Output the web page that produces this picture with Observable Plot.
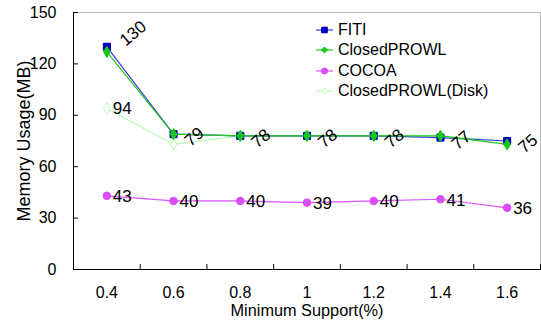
<!DOCTYPE html>
<html><head><meta charset="utf-8">
<script src="https://cdn.jsdelivr.net/npm/d3@7"></script>
<script src="https://cdn.jsdelivr.net/npm/@observablehq/plot@0.6"></script>
<style>
body{margin:0;background:#fff;font-family:"Liberation Sans",Arial,sans-serif;}
#wrap{position:relative;width:541px;height:321px;}
#legend{position:absolute;left:316px;top:20px;font-size:16px;color:#000;}
#legend .row{display:flex;align-items:center;height:20.3px;}
#legend svg{margin-right:5px;}
</style>
</head><body>
<div id="wrap"><div id="legend"></div></div>
<script>
const supports = [0.4, 0.6, 0.8, 1.0, 1.2, 1.4, 1.6];
const fiti = [130, 79, 78, 78, 78, 77, 75];
const closedProwl = [127, 79, 78, 78, 78, 78, 73];
const cocoa = [43, 40, 40, 39, 40, 41, 36];
const closedProwlDisk = [94, 73, 78, 78, 78, 78, 75];
const yTicks = [0, 30, 60, 90, 120, 150];
const xTickMarks = [0.5, 0.7, 0.9, 1.1, 1.3, 1.5, 1.7];
const seriesNames = ["FITI", "ClosedPROWL", "COCOA", "ClosedPROWL(Disk)"];

const styles = {
  "FITI": {line: "#3a3ae6", fill: "#0000c0", stroke: "#0000c0", symbol: "square", r: 4.0},
  "ClosedPROWL": {line: "#22c81a", fill: "#18c818", stroke: "#18c818", symbol: "diamond", r: 3.4},
  "COCOA": {line: "#dd55ff", fill: "#d94ef7", stroke: "#d94ef7", symbol: "circle", r: 3.8},
  "ClosedPROWL(Disk)": {line: "#b4fbb4", fill: "white", stroke: "#b4fbb4", symbol: "diamond", r: 3.4}
};
const values = {"FITI": fiti, "ClosedPROWL": closedProwl, "COCOA": cocoa, "ClosedPROWL(Disk)": closedProwlDisk};
const table = s => supports.map((x, i) => ({x, y: values[s][i], i}));

const stick = {draw(context, l) { context.moveTo(0, 0); context.lineTo(0, -l); }};

const drawOrder = ["ClosedPROWL(Disk)", "FITI", "ClosedPROWL", "COCOA"];
const marks = [
  Plot.frame({stroke: "#b8b8b8"}),
  Plot.axisY(yTicks, {tickSize: 0, tickPadding: 17, fontSize: 16, label: null}),
  Plot.axisX(supports, {tickSize: 0, tickPadding: 17, fontSize: 16, label: null, tickFormat: d => String(d)}),
  Plot.vector(xTickMarks, {x: d => d, frameAnchor: "bottom", rotate: 0, length: 5, anchor: "start", shape: stick, stroke: "black", strokeWidth: 1}),
  Plot.vector(yTicks, {y: d => d, frameAnchor: "left", rotate: 90, length: 4, anchor: "start", shape: stick, stroke: "black", strokeWidth: 1}),
  Plot.ruleY([0], {stroke: "black"}),
  Plot.ruleX([0.3], {stroke: "black"}),
  Plot.text(["Memory Usage(MB)"], {frameAnchor: "left", textAnchor: "middle", lineAnchor: "middle", dx: -49, rotate: -90, fontSize: 18}),
  Plot.text(["Minimum Support(%)"], {frameAnchor: "bottom", textAnchor: "middle", lineAnchor: "middle", dy: 41, fontSize: 16.3})
];
for (const s of drawOrder) {
  const st = styles[s];
  marks.push(Plot.line(table(s), {x: "x", y: "y", stroke: st.line, strokeWidth: 1.2}));
  marks.push(Plot.dot(table(s), {x: "x", y: "y", symbol: st.symbol, r: st.r, fill: st.fill, stroke: st.stroke, strokeWidth: 1}));
}
marks.push(
  Plot.text(table("FITI").filter(d => d.i > 0), {x: "x", y: "y", text: d => String(d.y), rotate: -40, textAnchor: "start", lineAnchor: "bottom", dx: 17, dy: 13, fontSize: 17}),
  Plot.text(table("FITI").filter(d => d.i === 0), {x: "x", y: "y", text: d => String(d.y), rotate: -40, textAnchor: "start", lineAnchor: "bottom", dx: 19, dy: 0, fontSize: 17}),
  Plot.text(table("COCOA"), {x: "x", y: "y", text: d => String(d.y), textAnchor: "start", lineAnchor: "middle", dx: 6, dy: 1, fontSize: 17}),
  Plot.text(table("ClosedPROWL(Disk)").filter(d => d.i === 0), {x: "x", y: "y", text: d => String(d.y), textAnchor: "start", lineAnchor: "middle", dx: 6, dy: 0, fontSize: 17})
);

const chart = Plot.plot({
  width: 541, height: 321,
  marginLeft: 73, marginRight: 1, marginTop: 12, marginBottom: 52,
  style: {fontFamily: "'Liberation Sans', Arial, sans-serif", color: "black", background: "white"},
  x: {domain: [0.3, 1.7], axis: null},
  y: {domain: [0, 150], axis: null},
  marks
});
document.getElementById("wrap").insertBefore(chart, document.getElementById("legend"));

const legend = document.getElementById("legend");
for (const s of seriesNames) {
  const st = styles[s];
  const row = document.createElement("div");
  row.className = "row";
  const ns = "http://www.w3.org/2000/svg";
  const svg = document.createElementNS(ns, "svg");
  svg.setAttribute("width", 17); svg.setAttribute("height", 12);
  const ln = document.createElementNS(ns, "line");
  ln.setAttribute("x1", 0); ln.setAttribute("x2", 17); ln.setAttribute("y1", 6); ln.setAttribute("y2", 6);
  ln.setAttribute("stroke", st.line); ln.setAttribute("stroke-width", 1.2);
  svg.appendChild(ln);
  const sym = ({square: d3.symbolSquare, diamond: d3.symbolDiamond2, circle: d3.symbolCircle})[st.symbol];
  const p = document.createElementNS(ns, "path");
  const rr = st.r * 0.8;
  p.setAttribute("d", d3.symbol(sym, rr * rr * Math.PI)());
  p.setAttribute("transform", "translate(8.5,6)");
  p.setAttribute("fill", st.fill); p.setAttribute("stroke", st.stroke);
  svg.appendChild(p);
  row.appendChild(svg);
  const t = document.createElement("span");
  t.textContent = s;
  row.appendChild(t);
  legend.appendChild(row);
}
</script>
</body></html>
